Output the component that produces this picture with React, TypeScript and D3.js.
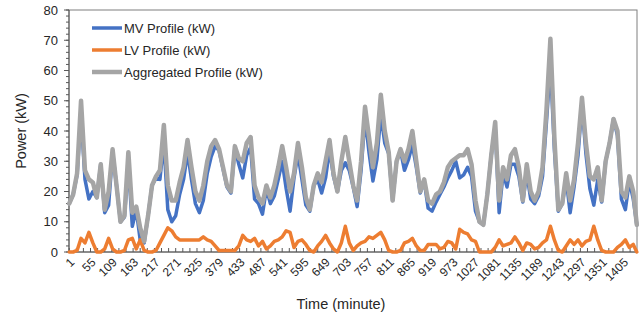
import * as d3 from 'd3';
import {useEffect, useRef} from "react";

// sampled every 10 minutes (last point = minute 1440)
const aggregated = [
    16, 19, 26, 50, 27, 24, 23, 18, 29, 14,
    20, 34, 22, 10, 12, 33, 13, 15, 8, 3.5,
    12, 22, 25, 27, 42, 22, 17, 17, 23, 28,
    37, 28, 20, 17, 22, 30, 35, 37, 34, 28,
    22, 20, 35, 31, 30, 36, 38, 22, 18, 16,
    22, 18, 22, 28, 35, 28, 20, 26, 36, 28,
    18, 14, 22, 26, 23, 30, 37, 26, 20, 30,
    38, 30, 22, 17, 30, 48, 38, 28, 36, 52,
    40, 33, 17, 30, 34, 30, 34, 40, 30, 20,
    24, 17, 16, 19, 20, 23, 28, 30, 31, 32,
    32, 34, 29, 17, 10, 9, 19, 32, 43, 17,
    28, 24, 32, 34, 28, 17, 29, 20, 17, 20,
    28, 47, 70.5, 38, 14, 16, 26, 17, 24, 36,
    51, 36, 25, 24, 28, 17, 30, 36, 44, 40,
    20, 18, 25, 20, 9
];

const lvProfile = [
    0, 0, 0.5, 4.5, 3, 6.5, 3, 0, 0, 1,
    4.5, 1, 0, 0, 0.5, 4, 4.5, 1, 4, 0.5,
    0, 0, 0.5, 3, 5.5, 8, 7, 5, 4, 4,
    4, 4, 4, 4, 5, 4, 3.5, 2, 0.5, 0.5,
    0.5, 0.5, 0.5, 2, 5.5, 4, 3.5, 4.5, 2, 3.5,
    1, 2, 3.5, 4, 5, 7, 6.5, 1.5, 3.5, 4,
    2.5, 0.5, 0, 2, 3.5, 5.5, 3, 1, 0, 3,
    8.5, 3, 0.5, 2, 3, 3.5, 5, 4.5, 5.5, 6.5,
    4, 0.5, 0, 0, 0.5, 3, 3.5, 4.5, 2, 0.5,
    0.5, 2.5, 2.5, 2.5, 1, 1.5, 3.5, 3, 1, 7.5,
    6.5, 6, 4, 3.5, 0, 0, 0, 0, 1.5, 4,
    2, 2.5, 3, 5, 3, 0.5, 3, 2.5, 1, 1.5,
    3, 4, 8.5, 4, 0.5, 0, 2, 4, 2.5, 4,
    2, 3.5, 4, 8.5, 4, 0.5, 0, 0, 0, 1.5,
    2.5, 4, 1.5, 2.5, 0
];

const mvProfile = [
    16, 19, 25.5, 45.5, 24, 17.5, 20, 18, 29, 13,
    15.5, 33, 22, 10, 11.5, 29, 8.5, 14, 4, 3,
    12, 22, 24.5, 24, 36.5, 14, 10, 12, 19, 24,
    33, 24, 16, 13, 17, 26, 31.5, 35, 33.5, 27.5,
    21.5, 19.5, 34.5, 29, 24.5, 32, 34.5, 17.5, 16, 12.5,
    21, 16, 18.5, 24, 30, 21, 13.5, 24.5, 32.5, 24,
    15.5, 13.5, 22, 24, 19.5, 24.5, 34, 25, 20, 27,
    29.5, 27, 21.5, 15, 27, 44.5, 33, 23.5, 30.5, 45.5,
    36, 32.5, 17, 30, 33.5, 27, 30.5, 35.5, 28, 19.5,
    23.5, 14.5, 13.5, 16.5, 19, 21.5, 24.5, 27, 30, 24.5,
    25.5, 28, 25, 13.5, 10, 9, 19, 32, 41.5, 13,
    26, 21.5, 29, 29, 25, 16.5, 26, 17.5, 16, 18.5,
    25, 43, 62, 34, 13.5, 16, 24, 13, 21.5, 32,
    49, 32.5, 21, 15.5, 24, 16.5, 30, 36, 44, 38.5,
    17.5, 14, 23.5, 17.5, 9
];

const minutes = d3.range(0, aggregated.length).map(i => Math.min(1 + i * 10, 1440));
const xLabels = d3.range(1, 1441, 54);
const yTicks = [0, 10, 20, 30, 40, 50, 60, 70, 80];

const seriesList = [
    {name: "MV Profile (kW)", values: mvProfile, color: "#4472C4", w: 3.5},
    {name: "LV Profile (kW)", values: lvProfile, color: "#ED7D31", w: 3.5},
    {name: "Aggregated Profile (kW)", values: aggregated, color: "#A5A5A5", w: 4.5},
];

const FONT = "'Liberation Sans', Arial, sans-serif";

export default function App() {
    const svgRef = useRef<SVGSVGElement>(null);

    const width = 642;
    const height = 317;
    const margin = {top: 10, right: 5, bottom: 65, left: 69};

    useEffect(() => {
        const svg = d3.select(svgRef.current)
            .attr('width', width)
            .attr('height', height);

        svg.selectAll("*").remove();

        const innerW = width - margin.left - margin.right;
        const innerH = height - margin.top - margin.bottom;

        const g = svg.append("g")
            .attr("transform", `translate(${margin.left},${margin.top})`);

        const xScale = d3.scaleLinear().domain([0.5, 1440.5]).range([0, innerW]);
        const yScale = d3.scaleLinear().domain([0, 80]).range([innerH, 0]);

        // plot area border
        g.append("rect")
            .attr("x", 0).attr("y", 0)
            .attr("width", innerW).attr("height", innerH)
            .attr("fill", "none")
            .attr("stroke", "#7f7f7f")
            .attr("stroke-width", 1);

        // y axis: minor ticks every 2
        g.selectAll(".ytick-minor")
            .data(d3.range(0, 81, 2))
            .enter().append("line")
            .attr("x1", -3).attr("x2", 0)
            .attr("y1", d => yScale(d)).attr("y2", d => yScale(d))
            .attr("stroke", "#595959");

        g.selectAll(".ytick")
            .data(yTicks)
            .enter().append("line")
            .attr("x1", -5).attr("x2", 0)
            .attr("y1", d => yScale(d)).attr("y2", d => yScale(d))
            .attr("stroke", "#595959");

        g.selectAll(".ylabel")
            .data(yTicks)
            .enter().append("text")
            .attr("x", -11)
            .attr("y", d => yScale(d))
            .attr("dy", "0.35em")
            .attr("text-anchor", "end")
            .attr("font-family", FONT)
            .attr("font-size", 13)
            .attr("fill", "#262626")
            .text(d => d);

        // x axis ticks (inside) every 18 minutes
        g.selectAll(".xtick")
            .data(d3.range(1, 1441, 18))
            .enter().append("line")
            .attr("x1", d => xScale(d)).attr("x2", d => xScale(d))
            .attr("y1", innerH).attr("y2", innerH - 4)
            .attr("stroke", "#595959");

        g.selectAll(".xlabel")
            .data(xLabels)
            .enter().append("text")
            .attr("transform", d => `translate(${xScale(d) + 3},${innerH + 8}) rotate(-45)`)
            .attr("text-anchor", "end")
            .attr("dy", "0.35em")
            .attr("font-family", FONT)
            .attr("font-size", 12)
            .attr("fill", "#262626")
            .text(d => d);

        // axis lines
        g.append("line")
            .attr("x1", 0).attr("x2", 0).attr("y1", 0).attr("y2", innerH)
            .attr("stroke", "#595959");
        g.append("line")
            .attr("x1", 0).attr("x2", innerW).attr("y1", innerH).attr("y2", innerH)
            .attr("stroke", "#595959");

        // series
        const line = d3.line<number>()
            .x((d, i) => xScale(minutes[i]))
            .y(d => yScale(d));

        seriesList.forEach(s => {
            g.append("path")
                .datum(s.values)
                .attr("fill", "none")
                .attr("stroke", s.color)
                .attr("stroke-width", s.w)
                .attr("stroke-linejoin", "round")
                .attr("stroke-linecap", "round")
                .attr("d", line);
        });

        // legend
        const legend = g.selectAll(".legend-item")
            .data(seriesList)
            .enter().append("g")
            .attr("transform", (d, i) => `translate(23,${18 + i * 22})`);

        legend.append("line")
            .attr("x1", 0).attr("x2", 30)
            .attr("stroke", d => d.color)
            .attr("stroke-width", d => d.w);

        legend.append("text")
            .attr("x", 32)
            .attr("dy", "0.35em")
            .attr("font-family", FONT)
            .attr("font-size", 13)
            .attr("fill", "#262626")
            .text(d => d.name);

        // axis titles
        svg.append("text")
            .attr("transform", `translate(26,${margin.top + innerH / 2}) rotate(-90)`)
            .attr("text-anchor", "middle")
            .attr("font-family", FONT)
            .attr("font-size", 14.5)
            .attr("fill", "#262626")
            .text("Power (kW)");

        svg.append("text")
            .attr("x", 341)
            .attr("y", 309)
            .attr("text-anchor", "middle")
            .attr("font-family", FONT)
            .attr("font-size", 14.5)
            .attr("fill", "#262626")
            .text("Time (minute)");

        return () => {};
    }, []);

    return (
        <svg ref={svgRef} style={{position: "absolute", left: 0, top: 0, background: "#fff"}}
             viewBox="0 0 642 317"></svg>
    );
}
